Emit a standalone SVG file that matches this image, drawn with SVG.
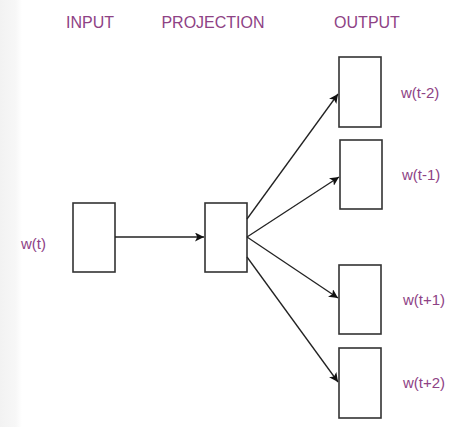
<svg xmlns="http://www.w3.org/2000/svg" width="462" height="427" viewBox="0 0 462 427">
<defs>
<style>
.box{fill:#fff;stroke:#333;stroke-width:1.6}
.lbl{font-family:"Liberation Sans",Arial,sans-serif;fill:#8e4285}
.hd{font-size:16px;text-anchor:middle}
.wl{font-size:15px}
.edge{stroke:#222;stroke-width:1.3;fill:none;marker-end:url(#ah)}
</style>
<linearGradient id="strip" x1="0" y1="0" x2="1" y2="0">
<stop offset="0" stop-color="#f2f2f2"/>
<stop offset="0.7" stop-color="#f7f7f7"/>
<stop offset="1" stop-color="#ffffff"/>
</linearGradient>
<marker id="ah" viewBox="0 0 10 10" refX="10" refY="5" markerWidth="9" markerHeight="9" markerUnits="userSpaceOnUse" orient="auto">
<path d="M0,0 L10,5 L0,10 L2.5,5 z" fill="#111"/>
</marker>
</defs>
<rect x="0" y="0" width="462" height="427" fill="#fff"/>
<rect x="0" y="0" width="22" height="427" fill="url(#strip)"/>
<g id="headers">
<text class="lbl hd" x="90" y="28">INPUT</text>
<text class="lbl hd" x="213" y="28">PROJECTION</text>
<text class="lbl hd" x="367" y="28">OUTPUT</text>
</g>
<g id="input">
<rect class="box" x="73" y="203" width="42" height="69"/>
<text class="lbl wl" x="21" y="249">w(t)</text>
</g>
<g id="projection">
<rect class="box" x="205" y="203" width="42" height="69"/>
</g>
<g id="out-t-2">
<rect class="box" x="339" y="57" width="42" height="70"/>
<text class="lbl wl" x="401" y="98">w(t-2)</text>
</g>
<g id="out-t-1">
<rect class="box" x="340" y="140" width="42" height="69"/>
<text class="lbl wl" x="402" y="180">w(t-1)</text>
</g>
<g id="out-t+1">
<rect class="box" x="339" y="265" width="42" height="69"/>
<text class="lbl wl" x="403" y="305">w(t+1)</text>
</g>
<g id="out-t+2">
<rect class="box" x="339" y="348" width="42" height="70"/>
<text class="lbl wl" x="403" y="388">w(t+2)</text>
</g>
<g id="connectors">
<line class="edge" x1="115" y1="237" x2="204" y2="237"/>
<line class="edge" x1="247" y1="219" x2="338" y2="94"/>
<line class="edge" x1="247" y1="237" x2="339" y2="177"/>
<line class="edge" x1="247" y1="237" x2="338" y2="298"/>
<line class="edge" x1="247" y1="257" x2="338" y2="382"/>
</g>
</svg>
